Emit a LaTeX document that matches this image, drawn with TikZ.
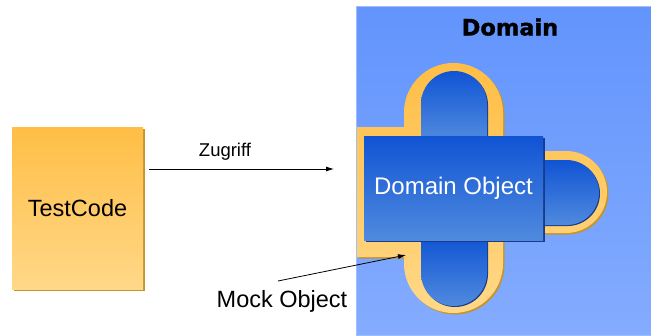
\documentclass[tikz,border=0pt]{standalone}
\usepackage{fontspec}
\setmainfont{Liberation Sans}
\newfontfamily\heavyfont{DejaVu Sans}[BoldFeatures={FakeBold=1.5}]
\usetikzlibrary{arrows.meta,shadows}
\definecolor{domtop}{RGB}{98,148,252}
\definecolor{dombot}{RGB}{132,172,255}
\definecolor{ortop}{RGB}{255,190,70}
\definecolor{orbot}{RGB}{255,216,136}
\definecolor{orshadow}{RGB}{196,148,48}
\definecolor{bltop}{RGB}{16,84,212}
\definecolor{blbot}{RGB}{80,138,222}
\definecolor{blshadow}{RGB}{24,60,140}
\begin{document}
\begin{tikzpicture}[x=1pt,y=-1pt,
  orangebox/.style={top color=ortop,bottom color=orbot,draw=none,
    drop shadow={shadow xshift=2pt,shadow yshift=-2pt,opacity=1,fill=orshadow}},
  bluebox/.style={top color=bltop,bottom color=blbot,draw=none,
    drop shadow={shadow xshift=2pt,shadow yshift=-2pt,opacity=1,fill=blshadow}},
  conn/.style={draw=black,line width=0.8pt,-{Latex[length=8pt,width=5pt]}},
  lbl/.style={inner sep=0pt,font=\fontsize{23.5}{26}\selectfont}]
\useasboundingbox (0,0) rectangle (651,335);
% domain background
\node[inner sep=0pt,minimum width=295pt,minimum height=329pt,
  top color=domtop,bottom color=dombot,draw={rgb,255:red,160;green,190;blue,255},line width=0.8pt]
  (domain) at (503.5,170.5) {};
\node[inner sep=0pt,font=\heavyfont\bfseries\fontsize{22.5}{25}\selectfont] (domlbl) at (510,27) {Domain};
% orange mock object (shadow)
\fill[orshadow,shift={(1.5,1.5)}] (357,127) rectangle (420,257)
  [rounded corners=49.5pt] (404,63) rectangle (503,313)
  [rounded corners=41pt] (480,151) rectangle (607,233);
\shade[top color=ortop,bottom color=orbot] (357,127) rectangle (420,257)
  [rounded corners=49.5pt] (404,63) rectangle (503,313)
  [rounded corners=41pt] (480,151) rectangle (607,233);
% blue inner lobes
\fill[blshadow,shift={(1,1)}] (421,140) -- (421,104) arc[start angle=180,end angle=360,radius=33] -- (487,140) -- cycle;
\shade[top color=bltop,bottom color=blbot] (421,140) -- (421,104) arc[start angle=180,end angle=360,radius=33] -- (487,140) -- cycle;
\fill[blshadow,shift={(1,1)}] (421,236) -- (487,236) -- (487,273) arc[start angle=0,end angle=180,radius=33] -- cycle;
\shade[top color=bltop,bottom color=blbot] (421,236) -- (487,236) -- (487,273) arc[start angle=0,end angle=180,radius=33] -- cycle;
\fill[blshadow,shift={(1,1)}] (530,160) -- (566.5,160) arc[start angle=270,end angle=450,radius=32.5] -- (530,225) -- cycle;
\shade[top color=bltop,bottom color=blbot] (530,160) -- (566.5,160) arc[start angle=270,end angle=450,radius=32.5] -- (530,225) -- cycle;
% domain object
\node[bluebox,inner sep=0pt,minimum width=179pt,minimum height=104pt,
  text=white,font=\fontsize{24}{27}\selectfont] (domobj) at (453.5,188) {Domain Object};
% test code
\node[orangebox,inner sep=0pt,minimum width=131pt,minimum height=162pt,
  font=\fontsize{23.5}{26}\selectfont] (test) at (77.5,208) {TestCode};
% labels
\node[inner sep=0pt,font=\fontsize{18.5}{21}\selectfont] (zug) at (225,152) {Zugriff};
\node[lbl] (mock) at (282,301) {Mock Object};
% connectors
\coordinate (zs) at (149,169);
\coordinate (ze) at (334,169);
\draw[conn] (zs) -- (ze);
\coordinate (ms) at (278,281);
\coordinate (me) at (406,255);
\draw[conn] (ms) -- (me);
\end{tikzpicture}
\end{document}
